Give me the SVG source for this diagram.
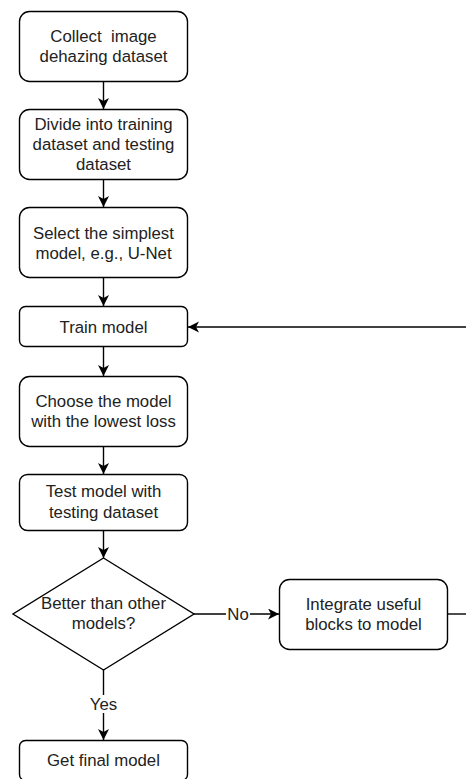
<svg xmlns="http://www.w3.org/2000/svg" width="466" height="779" viewBox="0 0 466 779">
<style>
.box{fill:#fff;stroke:#000;stroke-width:1.4}
.t{font-family:"Liberation Sans",Arial,sans-serif;font-size:16.8px;fill:#222;text-anchor:middle}
.c{fill:none;stroke:#000;stroke-width:1.4}
.lbl{fill:#fff}
</style>
<defs>
<marker id="ah" markerWidth="12" markerHeight="12" refX="11" refY="5.5" orient="auto" markerUnits="userSpaceOnUse">
<path d="M0,0 L11,5.5 L0,11 L3,5.5 Z" fill="#000"/>
</marker>
</defs>
<g id="connectors">
<line class="c" x1="103.5" y1="81" x2="103.5" y2="109" marker-end="url(#ah)"/>
<line class="c" x1="103.5" y1="179" x2="103.5" y2="207" marker-end="url(#ah)"/>
<line class="c" x1="103.5" y1="278" x2="103.5" y2="306" marker-end="url(#ah)"/>
<line class="c" x1="103.5" y1="347" x2="103.5" y2="376" marker-end="url(#ah)"/>
<line class="c" x1="103.5" y1="446" x2="103.5" y2="474" marker-end="url(#ah)"/>
<line class="c" x1="103.5" y1="530" x2="103.5" y2="558" marker-end="url(#ah)"/>
<line class="c" x1="194" y1="614" x2="279" y2="614" marker-end="url(#ah)"/>
<rect class="lbl" x="226" y="605" width="24" height="18"/>
<text class="t" x="238" y="620">No</text>
<line class="c" x1="103.5" y1="670" x2="103.5" y2="740" marker-end="url(#ah)"/>
<rect class="lbl" x="88" y="695" width="31" height="18"/>
<text class="t" x="103.5" y="710">Yes</text>
<line class="c" x1="447" y1="614" x2="466" y2="614"/>
<line class="c" x1="466" y1="327" x2="188" y2="327" marker-end="url(#ah)"/>
</g>
<g id="n1">
<rect class="box" x="19.5" y="11.5" width="168" height="70" rx="10"/>
<text class="t" x="103.5" y="42" xml:space="preserve">Collect  image</text>
<text class="t" x="103.5" y="62">dehazing dataset</text>
</g>
<g id="n2">
<rect class="box" x="19.5" y="109.5" width="168" height="70" rx="10"/>
<text class="t" x="103.5" y="130">Divide into training</text>
<text class="t" x="103.5" y="150">dataset and testing</text>
<text class="t" x="103.5" y="170">dataset</text>
</g>
<g id="n3">
<rect class="box" x="19.5" y="207.5" width="168" height="70" rx="10"/>
<text class="t" x="103.5" y="238.5">Select the simplest</text>
<text class="t" x="103.5" y="258.5">model, e.g., U-Net</text>
</g>
<g id="n4">
<rect class="box" x="19.5" y="306.5" width="168" height="40" rx="6"/>
<text class="t" x="103.5" y="332.5">Train model</text>
</g>
<g id="n5">
<rect class="box" x="19.5" y="376.5" width="168" height="70" rx="10"/>
<text class="t" x="103.5" y="407">Choose the model</text>
<text class="t" x="103.5" y="427">with the lowest loss</text>
</g>
<g id="n6">
<rect class="box" x="19.5" y="474.5" width="168" height="56" rx="8"/>
<text class="t" x="103.5" y="497">Test model with</text>
<text class="t" x="103.5" y="518">testing dataset</text>
</g>
<g id="n7">
<polygon class="box" points="103.5,558 194,614 103.5,670 13,614"/>
<text class="t" x="103.5" y="609">Better than other</text>
<text class="t" x="103.5" y="629">models?</text>
</g>
<g id="n8">
<rect class="box" x="279.5" y="579.5" width="168" height="70" rx="10"/>
<text class="t" x="363.5" y="610">Integrate useful</text>
<text class="t" x="363.5" y="630">blocks to model</text>
</g>
<g id="n9">
<rect class="box" x="19.5" y="740.5" width="168" height="40" rx="6"/>
<text class="t" x="103.5" y="766">Get final model</text>
</g>
</svg>
